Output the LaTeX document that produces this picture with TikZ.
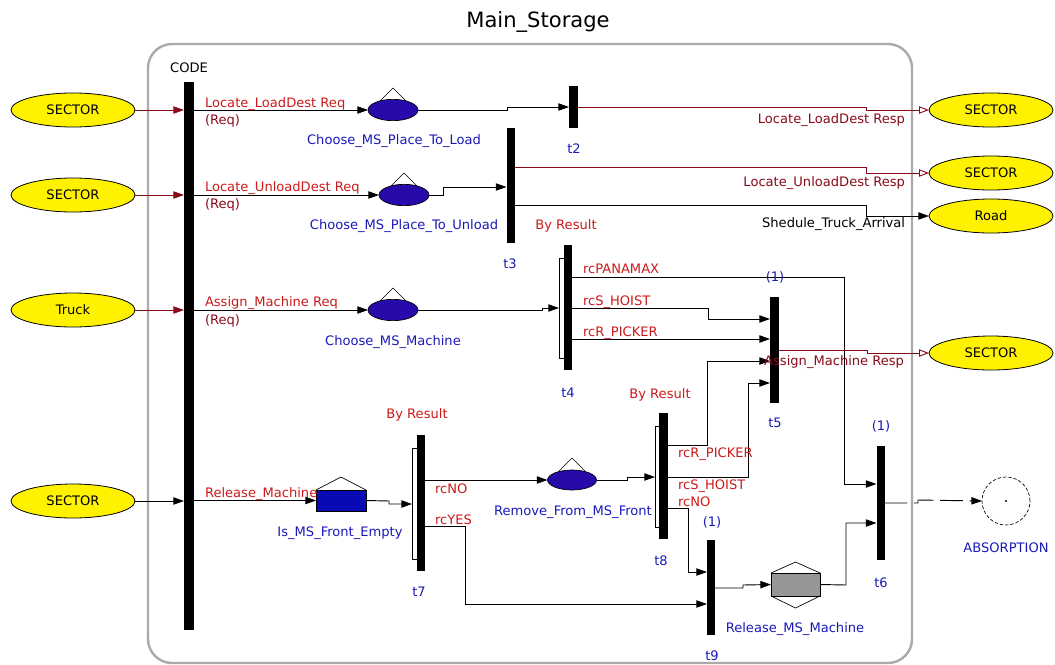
\documentclass[tikz,border=0pt]{standalone}
\usepackage{fontspec}
\setmainfont{DejaVu Sans}
\usetikzlibrary{arrows.meta,shapes.geometric,calc}
\definecolor{lred}{RGB}{205,25,25}
\definecolor{mroon}{RGB}{135,10,25}
\definecolor{lblue}{RGB}{25,25,185}
\definecolor{pfill}{RGB}{40,10,170}
\definecolor{rfill}{RGB}{10,10,180}
\definecolor{bordergray}{RGB}{170,170,170}
\definecolor{hexgray}{RGB}{150,150,150}
\begin{document}
\begin{tikzpicture}[x=0.75pt,y=-0.75pt,
  every node/.style={font=\fontsize{9.8}{11}\selectfont, inner sep=0pt, outer sep=0pt},
  bar/.style={fill=black, draw=none, rectangle},
  side/.style={draw=black, fill=white, line width=0.5pt, rectangle},
  ext/.style={ellipse, draw=black, fill=yellow, line width=0.6pt, minimum width=93pt, minimum height=25.5pt},
  place/.style={ellipse, draw=black, fill=pfill, line width=0.5pt, minimum width=37.5pt, minimum height=16pt},
  roof/.style={draw=black, line width=0.5pt},
  conn/.style={draw=black, line width=0.7pt},
  mconn/.style={draw=mroon, line width=0.7pt},
  fa/.style={-{Triangle[length=8pt,width=5.5pt]}},
  oa/.style={-{Triangle[open,length=7.5pt,width=5.5pt]}},
  rlab/.style={text=lred},
  mlab/.style={text=mroon},
  blab/.style={text=lblue},
]
\useasboundingbox (0,0) rectangle (1055,664);
\begin{scope}
\clip (0,0) rectangle (1055,664);
\draw[bordergray, line width=1.8pt, rounded corners=18pt] (148,44) rectangle (912,663);
\end{scope}
\node[font=\fontsize{15.8}{18}\selectfont] (title) at (538,22) {Main\_Storage};

% external ellipses
\node[ext] (s1) at (73,110) {SECTOR};
\node[ext] (s2) at (73,195) {SECTOR};
\node[ext] (tr) at (73,310) {Truck};
\node[ext] (s4) at (73,501) {SECTOR};
\node[ext] (r1) at (991,110) {SECTOR};
\node[ext] (r2) at (991,173) {SECTOR};
\node[ext] (rd) at (991,216) {Road};
\node[ext] (r4) at (991,353) {SECTOR};

% bars
\node[bar, minimum width=7.5pt, minimum height=411pt] (code) at (189,356) {};
\node (codelab) at (189,68) {CODE};
\node[bar, minimum width=6.75pt, minimum height=31.5pt] (t2) at (573.5,107) {};
\node[bar, minimum width=6pt, minimum height=86.25pt] (t3) at (510.5,185.5) {};
\node[side, minimum width=3.75pt, minimum height=75pt] (t4s) at (561.5,308) {};
\node[bar, minimum width=6pt, minimum height=93.75pt] (t4) at (568,307.5) {};
\node[bar, minimum width=6.75pt, minimum height=79.5pt] (t5) at (774.5,350) {};
\node[bar, minimum width=6pt, minimum height=85.5pt] (t6) at (880.5,503) {};
\node[side, minimum width=3.75pt, minimum height=83.25pt] (t7s) at (414.5,503.5) {};
\node[bar, minimum width=6pt, minimum height=102pt] (t7) at (420.5,503) {};
\node[side, minimum width=3pt, minimum height=75.75pt] (t8s) at (657,476.5) {};
\node[bar, minimum width=6.75pt, minimum height=94.5pt] (t8) at (663.5,476) {};
\node[bar, minimum width=6pt, minimum height=71.25pt] (t9) at (711,587.5) {};

% places
\node[place] (pl) at (393,110) {};
\node[place] (pu) at (404,195) {};
\node[place] (pm) at (393,310) {};
\node[place, minimum width=36.75pt, minimum height=15pt] (pr) at (572,480) {};
\foreach \p in {pl,pu,pm,pr}{
  \draw[roof] ($(\p.center)+(-13,-9)$) -- ($(\p.center)+(0,-22)$) -- ($(\p.center)+(13,-9)$);
}
\node[rectangle, draw=black, fill=rfill, line width=0.5pt, minimum width=37.5pt, minimum height=15.75pt] (ie) at (341,500.5) {};
\draw[roof] (ie.north west) -- ($(ie.north)+(0,-13)$) -- (ie.north east);
\node[rectangle, draw=black, fill=hexgray, line width=0.5pt, minimum width=36.75pt, minimum height=17.25pt] (rm) at (795.5,584.5) {};
\draw[roof] (rm.north west) -- ($(rm.north)+(0,-11)$) -- (rm.north east);
\draw[roof] (rm.south west) -- ($(rm.south)+(0,12)$) -- (rm.south east);
\node[circle, draw=black, dash pattern=on 2.5pt off 1.5pt, line width=0.5pt, minimum size=36pt] (ab) at (1006,501) {};
\fill (ab.center) circle (1.2);

% inputs from left
\draw[mconn, fa] (s1.east) -- (code.west |- s1.east);
\draw[mconn, fa] (s2.east) -- (code.west |- s2.east);
\draw[mconn, fa] (tr.east) -- (code.west |- tr.east);
\draw[conn, fa] (s4.east) -- (code.west |- s4.east);

% row 1
\draw[conn, fa] (code.east |- pl.west) -- (pl.west);
\draw[conn, fa] (pl.east) -- (507,110) -- (507,107) -- (t2.west |- 0,107);
\draw[mconn, oa] (t2.east |- 0,107) -- (866,107) -- (866,110) -- (r1.west);
% row 2
\draw[conn, fa] (code.east |- pu.west) -- (pu.west);
\draw[conn, fa] (pu.east) -- (443,195) -- (443,187) -- (t3.west |- 0,187);
\draw[mconn, oa] (t3.east |- 0,167) -- (866,167) -- (866,173) -- (r2.west);
\draw[conn, fa] (t3.east |- 0,205) -- (866,205) -- (866,216) -- (rd.west);
% row 3
\draw[conn, fa] (code.east |- pm.west) -- (pm.west);
\draw[conn, fa] (pm.east) -- (542,310) -- (542,308) -- (t4s.west |- 0,308);
\draw[conn, fa] (t4.east |- 0,277) -- (844,277) -- (844,484) -- (t6.west |- 0,484);
\draw[conn, fa] (t4.east |- 0,308) -- (708,308) -- (708,319) -- (t5.west |- 0,319);
\draw[conn, fa] (t4.east |- 0,339) -- (t5.west |- 0,339);
\draw[mconn, oa] (t5.east |- 0,350) -- (867,350) -- (867,353) -- (r4.west);
% row 4
\draw[conn, fa] (code.east |- ie.west) -- (ie.west);
\draw[conn, fa] (ie.east) -- (389,501) -- (389,504) -- (t7s.west |- 0,504);
\draw[conn, fa] (t7.east |- pr.west) -- (pr.west);
\draw[conn, fa] (t7.east |- 0,526) -- (465,526) -- (465,604) -- (t9.west |- 0,604);
\draw[conn, fa] (pr.east) -- (627,480) -- (627,477) -- (t8s.west |- 0,477);
\draw[conn, fa] (t8.east |- 0,445) -- (707,445) -- (707,361) -- (t5.west |- 0,361);
\draw[conn, fa] (t8.east |- 0,477) -- (748,477) -- (748,383) -- (t5.west |- 0,383);
\draw[conn, fa] (t8.east |- 0,508) -- (688,508) -- (688,572) -- (t9.west |- 0,572);
\draw[conn, fa] (t9.east |- 0,588) -- (743,588) -- (743,585) -- (rm.west);
\draw[conn, fa] (rm.east) -- (846,585) -- (846,523) -- (t6.west |- 0,523);
\draw[conn, fa, dash pattern=on 17pt off 5pt] (t6.east |- 0,503) -- (918,503) -- (918,500) -- (ab.west);

% labels
\node[rlab, anchor=west] (l1) at (205,104) {Locate\_LoadDest Req};
\node[mlab, anchor=west] (l1b) at (205,121) {(Req)};
\node[rlab, anchor=west] (l2) at (205,188) {Locate\_UnloadDest Req};
\node[mlab, anchor=west] (l2b) at (205,205) {(Req)};
\node[rlab, anchor=west] (l3) at (205,303) {Assign\_Machine Req};
\node[mlab, anchor=west] (l3b) at (205,321) {(Req)};
\node[rlab, anchor=west] (l4) at (205,494) {Release\_Machine};

\node[blab] (npl) at (394,141) {Choose\_MS\_Place\_To\_Load};
\node[blab] (npu) at (404,226) {Choose\_MS\_Place\_To\_Unload};
\node[blab] (npm) at (393,342) {Choose\_MS\_Machine};
\node[blab] (nie) at (340,533) {Is\_MS\_Front\_Empty};
\node[blab] (npr) at (573,512) {Remove\_From\_MS\_Front};
\node[blab] (nrm) at (795,629) {Release\_MS\_Machine};
\node[blab] (nab) at (1006,548) {ABSORPTION};

\node[blab] at (574,149) {t2};
\node[blab] at (510,264) {t3};
\node[blab] at (568,393) {t4};
\node[blab] at (775,423) {t5};
\node[blab] at (881,583) {t6};
\node[blab] at (419,592) {t7};
\node[blab] at (661,561) {t8};
\node[blab] at (712,656) {t9};
\node[blab] at (775,277) {(1)};
\node[blab] at (712,522) {(1)};
\node[blab] at (881,426) {(1)};

\node[rlab] at (566,226) {By Result};
\node[rlab] at (417,415) {By Result};
\node[rlab] at (660,395) {By Result};

\node[rlab, anchor=west] at (583,269) {rcPANAMAX};
\node[rlab, anchor=west] at (583,302) {rcS\_HOIST};
\node[rlab, anchor=west] at (583,333) {rcR\_PICKER};
\node[rlab, anchor=west] at (678,454) {rcR\_PICKER};
\node[rlab, anchor=west] at (678,486) {rcS\_HOIST};
\node[rlab, anchor=west] at (678,502) {rcNO};
\node[rlab, anchor=west] at (435,489) {rcNO};
\node[rlab, anchor=west] at (435,520) {rcYES};

\node[mlab, anchor=east] at (905,120) {Locate\_LoadDest Resp};
\node[mlab, anchor=east] at (905,183) {Locate\_UnloadDest Resp};
\node[anchor=east] at (905,224) {Shedule\_Truck\_Arrival};
\node[mlab, anchor=east] at (904,362) {Assign\_Machine Resp};
\end{tikzpicture}
\end{document}
